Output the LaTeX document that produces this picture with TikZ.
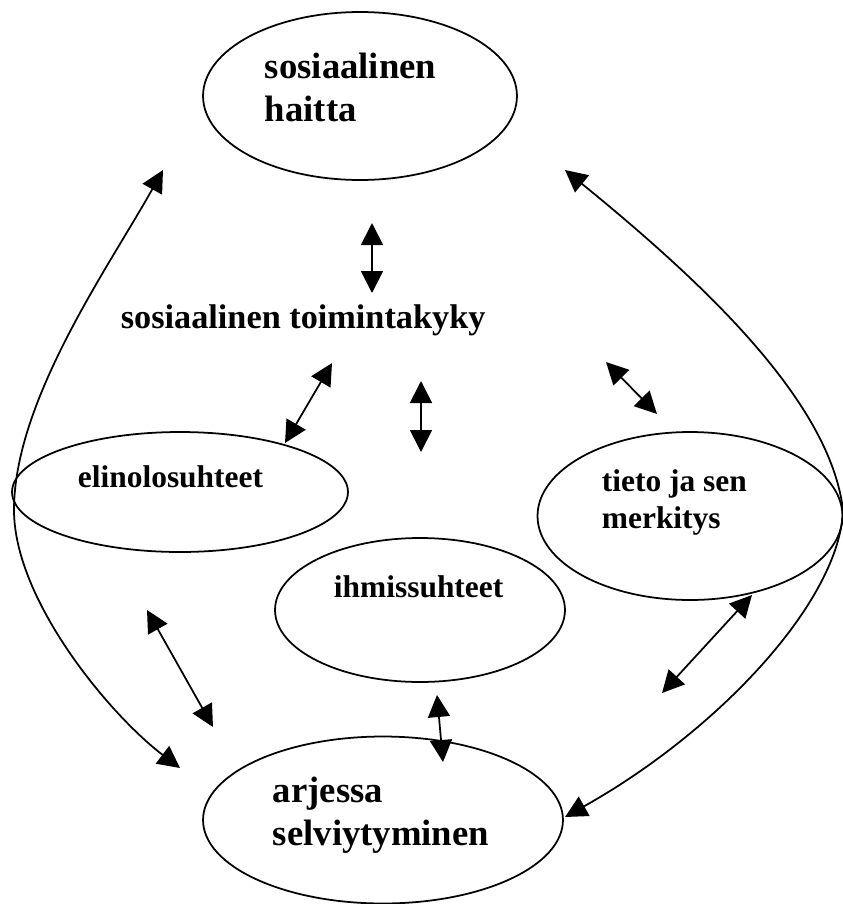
\documentclass[tikz,border=0pt]{standalone}
\usepackage{fontspec}
\setmainfont{Liberation Serif}
\usetikzlibrary{shapes.geometric,arrows.meta}
\begin{document}
\begin{tikzpicture}[x=0.02cm,y=-0.02cm,line width=1pt,
    oval/.style={draw,ellipse,inner sep=0pt},
    big/.style={font=\fontsize{20.9}{24.2}\selectfont\bfseries,inner sep=0pt,anchor=base west,align=left},
    small/.style={font=\fontsize{17.9}{20.5}\selectfont\bfseries,inner sep=0pt,anchor=base west,align=left},
    both/.style={{Triangle[length=0.44cm,width=0.44cm]}-{Triangle[length=0.44cm,width=0.44cm]}}]
  \useasboundingbox (0,0) rectangle (843,904);
  \draw
    (360,96) node[oval,minimum width=6.28cm,minimum height=3.36cm] (haitta){}
    (180,492) node[oval,minimum width=6.72cm,minimum height=2.4cm] (elino){}
    (690,516) node[oval,minimum width=6.1cm,minimum height=3.36cm] (tieto){}
    (420,610) node[oval,minimum width=5.8cm,minimum height=2.88cm] (ihmis){}
    (383,820) node[oval,minimum width=7.2cm,minimum height=3.34cm] (arki){};
  \path
    (264,121) node[big] (haittateksti){sosiaalinen\\haitta}
    (120,328) node[big,font=\fontsize{19.5}{23}\selectfont\bfseries] (toiminta){sosiaalinen toimintakyky}
    (77,487) node[small] (elinoteksti){elinolosuhteet}
    (601,528) node[small] (tietoteksti){tieto ja sen\\merkitys}
    (333,597) node[small] (ihmisteksti){ihmissuhteet}
    (272,845) node[big] (arkiteksti){arjessa\\selviytyminen};
  \path
    (372,223) coordinate (a1) (372,293) coordinate (b1)
    (332,363) coordinate (a2) (285,443) coordinate (b2)
    (421,381) coordinate (a3) (421,452) coordinate (b3)
    (606,362) coordinate (a4) (657,414) coordinate (b4)
    (147,610) coordinate (a5) (213,727) coordinate (b5)
    (437,695) coordinate (a6) (443,762) coordinate (b6)
    (752,595) coordinate (a7) (662,693) coordinate (b7)
    (163,170) coordinate (l1) (180,768) coordinate (l2)
    (565,170) coordinate (r1) (565,817) coordinate (r2);
  \begin{scope}[both]
    \draw (a1) to (b1);
    \draw (a2) to (b2);
    \draw (a3) to (b3);
    \draw (a4) to (b4);
    \draw (a5) to (b5);
    \draw (a6) to (b6);
    \draw (a7) to (b7);
    \draw (l1) .. controls (110,265) and (14,400) .. (14,510)
      .. controls (14,600) and (110,715) .. (l2);
    \draw (r1) .. controls (700,280) and (830,400) .. (843,510)
      .. controls (840,600) and (720,730) .. (r2);
  \end{scope}
\end{tikzpicture}
\end{document}
